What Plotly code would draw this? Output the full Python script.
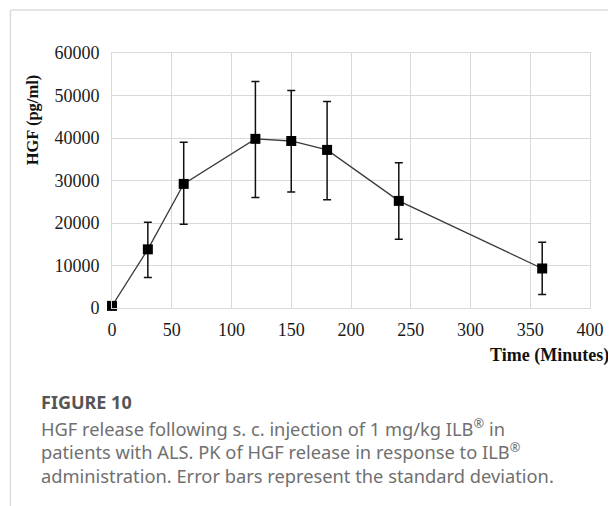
import plotly.graph_objects as go

time_min = [0, 30, 60, 120, 150, 180, 240, 360]
hgf_mean = [500, 13800, 29200, 39800, 39300, 37200, 25200, 9300]
sd_plus = [0, 6400, 9800, 13500, 11900, 11400, 9000, 6200]
sd_minus = [0, 6600, 9500, 13800, 12000, 11700, 9000, 6100]

x_ticks = [0, 50, 100, 150, 200, 250, 300, 350, 400]
y_ticks = [0, 10000, 20000, 30000, 40000, 50000, 60000]
y_tick_labels = ["0", "10000", "20000", "30000", "40000", "50000", "60000"]

# page has an 8px body margin, so work in shifted pixel coordinates
OFF = 8
W, H = 616 - OFF, 506 - OFF
L, R, T, B = 112 - OFF, 24, 53 - OFF, 198
pw, ph = W - L - R, H - T - B

def px(xp):
    return (xp - OFF - L) / pw

def py(yp):
    return (H - B - (yp - OFF)) / ph

fig = go.Figure()
fig.add_trace(go.Scatter(
    x=time_min, y=hgf_mean, mode="lines+markers",
    line=dict(color="#3a3a3a", width=1.3),
    marker=dict(symbol="square", size=10, color="black"),
    error_y=dict(type="data", array=sd_plus, arrayminus=sd_minus, symmetric=False,
                 color="#111111", thickness=1.5, width=4),
    cliponaxis=False, showlegend=False,
))

serif = "Liberation Serif, Times New Roman, serif"
sans = "Noto Sans, Open Sans, sans-serif"
fig.update_layout(
    width=W, height=H,
    margin=dict(l=L, r=R, t=T, b=B),
    paper_bgcolor="white", plot_bgcolor="white",
    xaxis=dict(range=[0, 400], tickvals=x_ticks, showgrid=True, gridcolor="#d9d9d9",
               gridwidth=1, showline=True, linecolor="#d9d9d9", mirror=True, zeroline=False,
               tickfont=dict(family=serif, size=18, color="#1a1a1a"), ticklabelstandoff=5),
    yaxis=dict(range=[0, 60000], tickvals=y_ticks, ticktext=y_tick_labels, showgrid=True,
               gridcolor="#d9d9d9", gridwidth=1, showline=True, linecolor="#d9d9d9",
               mirror=True, zeroline=False,
               tickfont=dict(family=serif, size=18, color="#1a1a1a"), ticklabelstandoff=8),
    font=dict(family=serif),
)

annotations = [
    dict(text="<b>HGF (pg/ml)</b>", x=px(33), y=py(120), textangle=-90,
         font=dict(family=serif, size=16.5, color="#111111"), xanchor="center", yanchor="middle"),
    dict(text="<b>Time (Minutes)</b>", x=px(613), y=py(355),
         font=dict(family=serif, size=18, color="#111111"), xanchor="right", yanchor="middle"),
    dict(text="<b>FIGURE 10</b>", x=px(39), y=py(402),
         font=dict(family=sans, size=18, color="#555555"),
         xanchor="left", yanchor="middle"),
    dict(text="HGF release following s. c. injection of 1 mg/kg ILB<sup>®</sup> in<br>"
              "patients with ALS. PK of HGF release in response to ILB<sup>®</sup><br>"
              "administration. Error bars represent the standard deviation.",
         x=px(39), y=py(412), align="left",
         font=dict(family=sans, size=18.3, color="#707070"),
         xanchor="left", yanchor="top"),
]
for a in annotations:
    a.update(xref="paper", yref="paper", showarrow=False)
fig.update_layout(annotations=annotations)

fig.update_layout(shapes=[
    dict(type="line", xref="paper", yref="paper", x0=px(10), x1=px(616), y0=py(10), y1=py(10),
         line=dict(color="#dddddd", width=1.5)),
    dict(type="line", xref="paper", yref="paper", x0=px(10), x1=px(10), y0=py(10), y1=py(506),
         line=dict(color="#dddddd", width=1.5)),
])

fig.write_html("out.html")
